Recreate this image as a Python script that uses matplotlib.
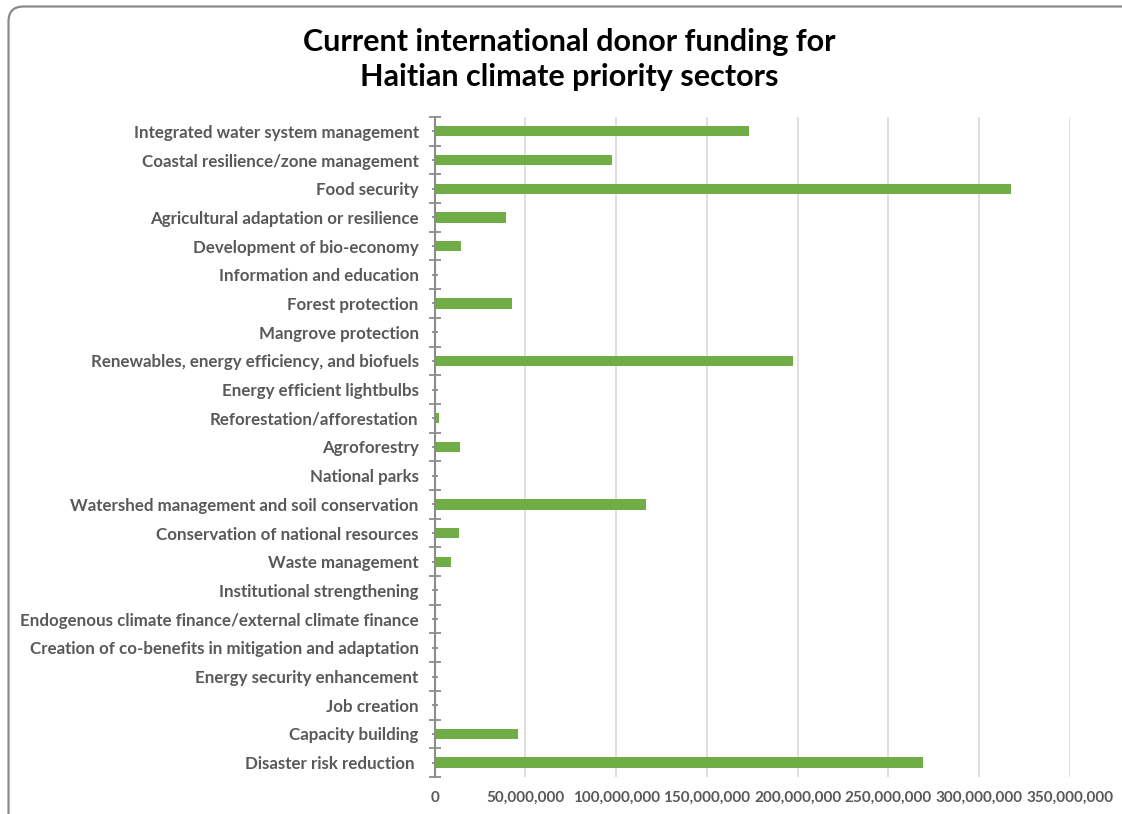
import matplotlib.pyplot as plt
from matplotlib.patches import FancyBboxPatch
from matplotlib.ticker import FuncFormatter, FixedLocator
import numpy as np

sectors = [
    "Integrated water system management",
    "Coastal resilience/zone management",
    "Food security",
    "Agricultural adaptation or resilience",
    "Development of bio-economy",
    "Information and education",
    "Forest protection",
    "Mangrove protection",
    "Renewables, energy efficiency, and biofuels",
    "Energy efficient lightbulbs",
    "Reforestation/afforestation",
    "Agroforestry",
    "National parks",
    "Watershed management and soil conservation",
    "Conservation of national resources",
    "Waste management",
    "Institutional strengthening",
    "Endogenous climate finance/external climate finance",
    "Creation of co-benefits in mitigation and adaptation",
    "Energy security enhancement",
    "Job creation",
    "Capacity building",
    "Disaster risk reduction ",
]
# funding in US$
funding = [
    173_000_000, 97_500_000, 317_500_000, 39_500_000, 14_700_000, 0,
    42_700_000, 0, 197_500_000, 0, 2_500_000, 14_000_000, 0,
    116_500_000, 13_200_000, 8_800_000, 0, 0, 0, 0, 0,
    46_000_000, 269_000_000,
]
xticks = [0, 50e6, 100e6, 150e6, 200e6, 250e6, 300e6, 350e6]

plt.rcParams['font.family'] = ['Lato', 'DejaVu Sans']
grey_txt = '#595959'
axis_col = '#8c8c8c'

W, H = 11.22, 8.14
fig = plt.figure(figsize=(W, H), dpi=100)
ax = fig.add_axes([0.3874, 0.0455, 0.9535 - 0.3874, 0.8563 - 0.0455])

n = len(sectors)
ypos = np.arange(n)
ax.barh(ypos, funding, height=0.36, color='#70AD47', zorder=3)

ax.set_ylim(n - 0.5, -0.5)
ax.set_xlim(0, 350e6)

ax.set_xticks(xticks)
ax.xaxis.set_major_formatter(FuncFormatter(lambda v, p: f"{v:,.0f}"))
ax.tick_params(axis='x', length=0, pad=10, labelsize=11, labelcolor=grey_txt)
for lab in ax.get_xticklabels():
    lab.set_fontweight('bold')
ax.grid(axis='x', color='#d9d9d9', linewidth=1.2, zorder=0)

ax.set_yticks(ypos)
ax.set_yticklabels(sectors, fontsize=12.2, fontweight='bold', color=grey_txt)
ax.yaxis.set_minor_locator(FixedLocator(np.arange(n + 1) - 0.5))
ax.tick_params(axis='y', which='major', direction='inout', length=5, width=1.3,
               color=axis_col, pad=9)
ax.tick_params(axis='y', which='minor', direction='inout', length=8, width=1.3,
               color=axis_col)

for side in ['top', 'right', 'bottom']:
    ax.spines[side].set_visible(False)
ax.spines['left'].set_color(axis_col)
ax.spines['left'].set_linewidth(1.5)
ax.spines['left'].set_zorder(4)

fig.text(0.507, 0.966, "Current international donor funding for\nHaitian climate priority sectors",
         ha='center', va='top', fontsize=22, fontweight='bold', color='black',
         linespacing=1.32)

# chart area frame with rounded corners (inches), running off the right and bottom edges
x0, y_top = 0.085, H - 0.065
frame = FancyBboxPatch((x0, -0.3), W + 0.5 - x0, y_top + 0.3,
                       boxstyle="round,pad=0,rounding_size=0.15",
                       transform=fig.dpi_scale_trans, fill=False,
                       edgecolor='#8a8a8a', linewidth=1.6, clip_on=False)
fig.add_artist(frame)

fig.savefig('out.png', dpi=100)
